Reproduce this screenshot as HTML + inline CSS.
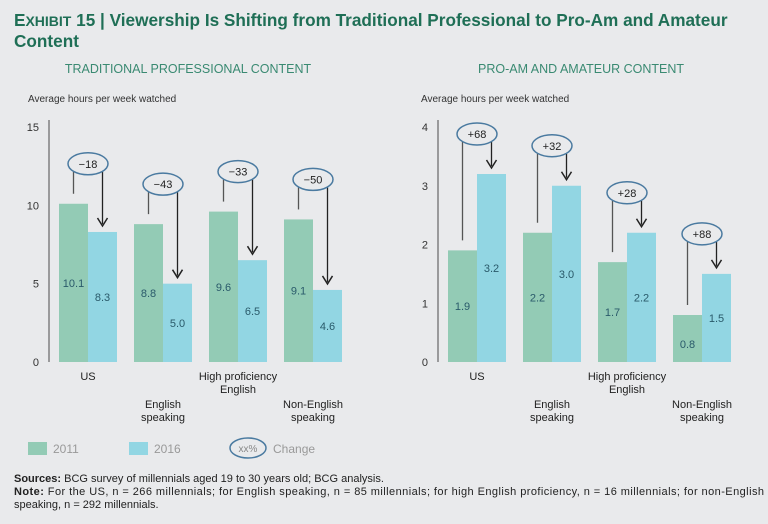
<!DOCTYPE html>
<html><head><meta charset="utf-8"><style>
body{margin:0;background:#e9eaec;}
svg{display:block;font-family:"Liberation Sans",sans-serif;}
</style></head><body>
<svg width="768" height="524" viewBox="0 0 768 524">
<rect width="768" height="524" fill="#e9eaec"/>
<text x="14" y="26" font-size="17.2" font-weight="bold" fill="#1f6f56">E<tspan font-size="14">XHIBIT</tspan> 15 | Viewership Is Shifting from Traditional Professional to Pro-Am and Amateur</text>
<text x="14" y="47" font-size="17.2" font-weight="bold" fill="#1f6f56">Content</text>
<text x="188" y="73" font-size="12.5" fill="#3a8a72" text-anchor="middle">TRADITIONAL PROFESSIONAL CONTENT</text>
<text x="581" y="73" font-size="12.5" fill="#3a8a72" text-anchor="middle">PRO-AM AND AMATEUR CONTENT</text>
<text x="28" y="102" font-size="10" fill="#333">Average hours per week watched</text>
<text x="421" y="102" font-size="10" fill="#333">Average hours per week watched</text>
<g id="charts"></g>
<g>
<rect x="28" y="442" width="19" height="13" fill="#93cbb5"/>
<text x="53" y="453" font-size="12" fill="#999">2011</text>
<rect x="129" y="442" width="19" height="13" fill="#92d6e3"/>
<text x="154" y="453" font-size="12" fill="#999">2016</text>
<ellipse cx="248" cy="448" rx="18" ry="10" fill="none" stroke="#4a7aa0" stroke-width="1.5"/>
<text x="248" y="452" font-size="10" fill="#888" text-anchor="middle">xx%</text>
<text x="273" y="453" font-size="12" fill="#999">Change</text>
</g>
<text x="14" y="482" font-size="11" fill="#222"><tspan font-weight="bold">Sources:</tspan> BCG survey of millennials aged 19 to 30 years old; BCG analysis.</text>
<text x="14" y="495" font-size="11" fill="#222" textLength="750" lengthAdjust="spacing"><tspan font-weight="bold">Note:</tspan> For the US, n = 266 millennials; for English speaking, n = 85 millennials; for high English proficiency, n = 16 millennials; for non-English</text>
<text x="14" y="508" font-size="11" fill="#222">speaking, n = 292 millennials.</text>
</svg>
<script>
const categories=[["US"],["English","speaking"],["High proficiency","English"],["Non-English","speaking"]];
const leftValues2011=[10.1,8.8,9.6,9.1];
const leftValues2016=[8.3,5.0,6.5,4.6];
const leftChanges=["\u221218","\u221243","\u221233","\u221250"];
const leftTicks=[0,5,10,15];
const rightValues2011=[1.9,2.2,1.7,0.8];
const rightValues2016=[3.2,3.0,2.2,1.5];
const rightChanges=["+68","+32","+28","+88"];
const rightTicks=[0,1,2,3,4];
const NS="http://www.w3.org/2000/svg";
const root=document.getElementById('charts');
function mk(tag,attrs,parent){const e=document.createElementNS(NS,tag);for(const k in attrs)e.setAttribute(k,attrs[k]);(parent||root).appendChild(e);return e;}
function panel(name,axisX,maxV,ticks,v1,v2,changes){
  const g=mk('g',{});
  
  
  const y0=362,y1=127;
  const yS=v=>y0-(y0-y1)*v/maxV;
  const ax=mk('line',{x1:axisX,y1:120,x2:axisX,y2:y0,stroke:'#666','stroke-width':1.2},g);
  
  
  ticks.forEach(t=>{
    const tx=mk('text',{x:axisX-10,y:yS(t)+4,'font-size':11,fill:'#333','text-anchor':'end'},g);
    tx.textContent=t;
    
    
  });
  const bw=29;
  categories.forEach((c,i)=>{
    const gx=axisX+10+i*75;
    const h1=yS(v1[i]),h2=yS(v2[i]);
    const b1=mk('rect',{x:gx,y:h1,width:bw,height:y0-h1,fill:'#93cbb5'},g);
    
    
    const b2=mk('rect',{x:gx+bw,y:h2,width:bw,height:y0-h2,fill:'#92d6e3'},g);
    
    
    [[v1[i],gx,h1],[v2[i],gx+bw,h2]].forEach(([v,x,h])=>{
      const t=mk('text',{x:x+bw/2,y:Math.min(Math.max((h+y0)/2+4,h+40),y0-14),'font-size':11,fill:'#2a5a6a','text-anchor':'middle'},g);
      t.textContent=v.toFixed(1);
      
      
    });
    const top=Math.min(h1,h2);
    const ey=top-40;
    const cx=gx+bw;
    const l1=mk('line',{x1:gx+bw/2,y1:ey+8,x2:gx+bw/2,y2:h1-10,stroke:'#555','stroke-width':1.3},g);
    
    
    const l2=mk('line',{x1:gx+bw*1.5,y1:ey+8,x2:gx+bw*1.5,y2:h2-8,stroke:'#222','stroke-width':1.3},g);
    
    
    const ah=mk('path',{d:`M${gx+bw*1.5-5},${h2-14} L${gx+bw*1.5},${h2-6} L${gx+bw*1.5+5},${h2-14}`,fill:'none',stroke:'#222','stroke-width':1.5},g);
    
    
    const el=mk('ellipse',{cx:cx,cy:ey,rx:20,ry:11,fill:'#e9eaec',stroke:'#4a7aa0','stroke-width':1.5},g);
    
    
    const ct=mk('text',{x:cx,y:ey+4,'font-size':11,fill:'#222','text-anchor':'middle'},g);
    ct.textContent=changes[i];
    
    
    const ly=i%2===0?380:408;
    c.forEach((line,j)=>{
      const ct2=mk('text',{x:cx,y:ly+j*13,'font-size':11,fill:'#222','text-anchor':'middle'},g);
      ct2.textContent=line;
      
      
    });
  });
}
panel('left-chart',49,15,leftTicks,leftValues2011,leftValues2016,leftChanges);
panel('right-chart',438,4,rightTicks,rightValues2011,rightValues2016,rightChanges);
</script>
</body></html>
